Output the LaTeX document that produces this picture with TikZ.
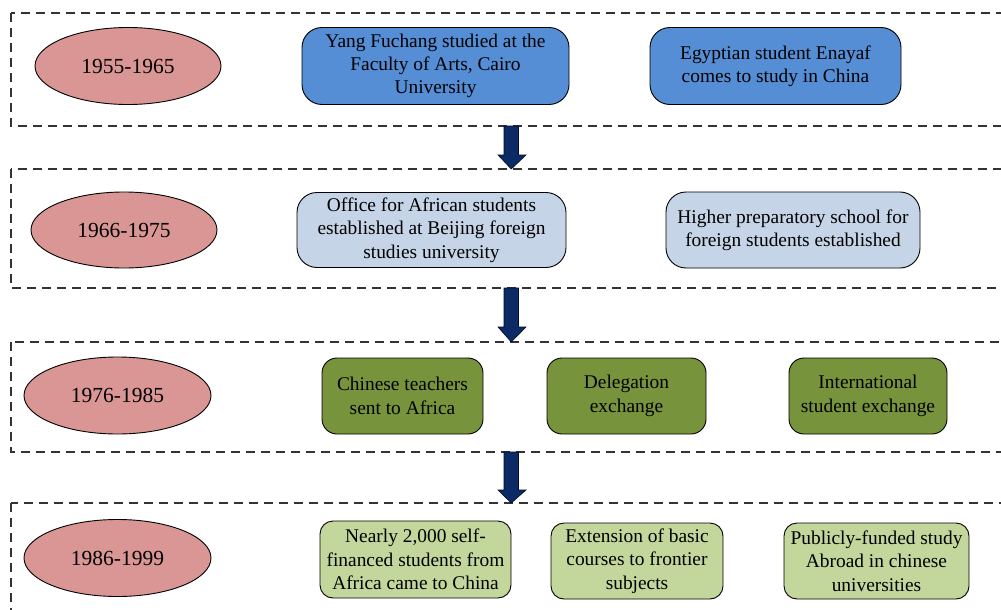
\documentclass[tikz,border=0pt]{standalone}
\usepackage{fontspec}
\setmainfont{Liberation Serif}
\usetikzlibrary{shapes.geometric}
\begin{document}
\begin{tikzpicture}[x=1pt,y=-1pt,
  band/.style={draw=black!80, line width=1.1pt, dash pattern=on 9pt off 6pt},
  period/.style={draw=black, line width=0.9pt, fill=pinkfill, ellipse, inner sep=0pt,
    font=\fontsize{21.5}{25}\selectfont},
  evbox/.style={draw=black, line width=0.9pt, rounded corners=#1, align=center, inner sep=0pt,
    font=\fontsize{19.4}{23.3}\selectfont},
  evbox/.default=20pt,
  blockarrow/.style={fill=navyfill, draw=black!70!navyfill, line width=0.6pt}
]
\definecolor{pinkfill}{HTML}{D99694}
\definecolor{bluefill}{HTML}{558ED5}
\definecolor{lightbluefill}{HTML}{C6D4E7}
\definecolor{olivefill}{HTML}{77933C}
\definecolor{lightgreenfill}{HTML}{C3D69B}
\definecolor{navyfill}{HTML}{0B2A66}
\useasboundingbox (0,0) rectangle (1001,610);
\clip (0,0) rectangle (1001,610);
% bands
\draw[band] (11,13) rectangle (1010,126);
\draw[band] (11,169) rectangle (1010,288);
\draw[band] (11,342) rectangle (1010,452);
\draw[band] (11,503) rectangle (1010,625);
% arrows
\foreach \t/\h/\b in {126/155/169, 288/327/342, 452/490/503}{
  \path[blockarrow] (504,\t) -- (518.5,\t) -- (518.5,\h) -- (526,\h) -- (511.25,\b) -- (498,\h) -- (504,\h) -- cycle;
}
% periods
\node[period, minimum width=186pt, minimum height=77pt] (p1) at (128,66) {1955-1965};
\node[period, minimum width=186pt, minimum height=76pt] (p2) at (124,230) {1966-1975};
\node[period, minimum width=187pt, minimum height=77pt] (p3) at (117.5,395.5) {1976-1985};
\node[period, minimum width=187pt, minimum height=77pt] (p4) at (117.5,558) {1986-1999};
% row 1
\node[evbox, fill=bluefill, minimum width=267pt, minimum height=77pt] (a1) at (435.5,66) {Yang Fuchang studied at the\\Faculty of Arts, Cairo\\University};
\node[evbox, fill=bluefill, minimum width=251pt, minimum height=77pt] (a2) at (775.5,66) {Egyptian student Enayaf\\comes to study in China};
% row 2
\node[evbox, fill=lightbluefill, minimum width=269pt, minimum height=75pt] (b1) at (431.5,230) {Office for African students\\established at Beijing foreign\\studies university};
\node[evbox, fill=lightbluefill, minimum width=254pt, minimum height=76pt] (b2) at (793,230) {Higher preparatory school for\\foreign students established};
% row 3
\node[evbox=15pt, fill=olivefill, minimum width=161pt, minimum height=76pt] (c1) at (402.5,396) {Chinese teachers\\sent to Africa};
\node[evbox=15pt, fill=olivefill, minimum width=159pt, minimum height=76pt] (c2) at (626.5,396) {Delegation\\exchange};
\node[evbox=15pt, fill=olivefill, minimum width=158pt, minimum height=76pt] (c3) at (868,396) {International\\student exchange};
% row 4
\node[evbox=13pt, fill=lightgreenfill, minimum width=191pt, minimum height=77pt] (d1) at (415.5,559.5) {Nearly 2,000 self-\\financed students from\\Africa came to China};
\node[evbox=13pt, fill=lightgreenfill, minimum width=172pt, minimum height=76pt] (d2) at (637,561) {Extension of basic\\courses to frontier\\subjects};
\node[evbox=13pt, fill=lightgreenfill, minimum width=185pt, minimum height=76pt] (d3) at (876.5,561) {Publicly-funded study\\Abroad in chinese\\universities};
\end{tikzpicture}
\end{document}
